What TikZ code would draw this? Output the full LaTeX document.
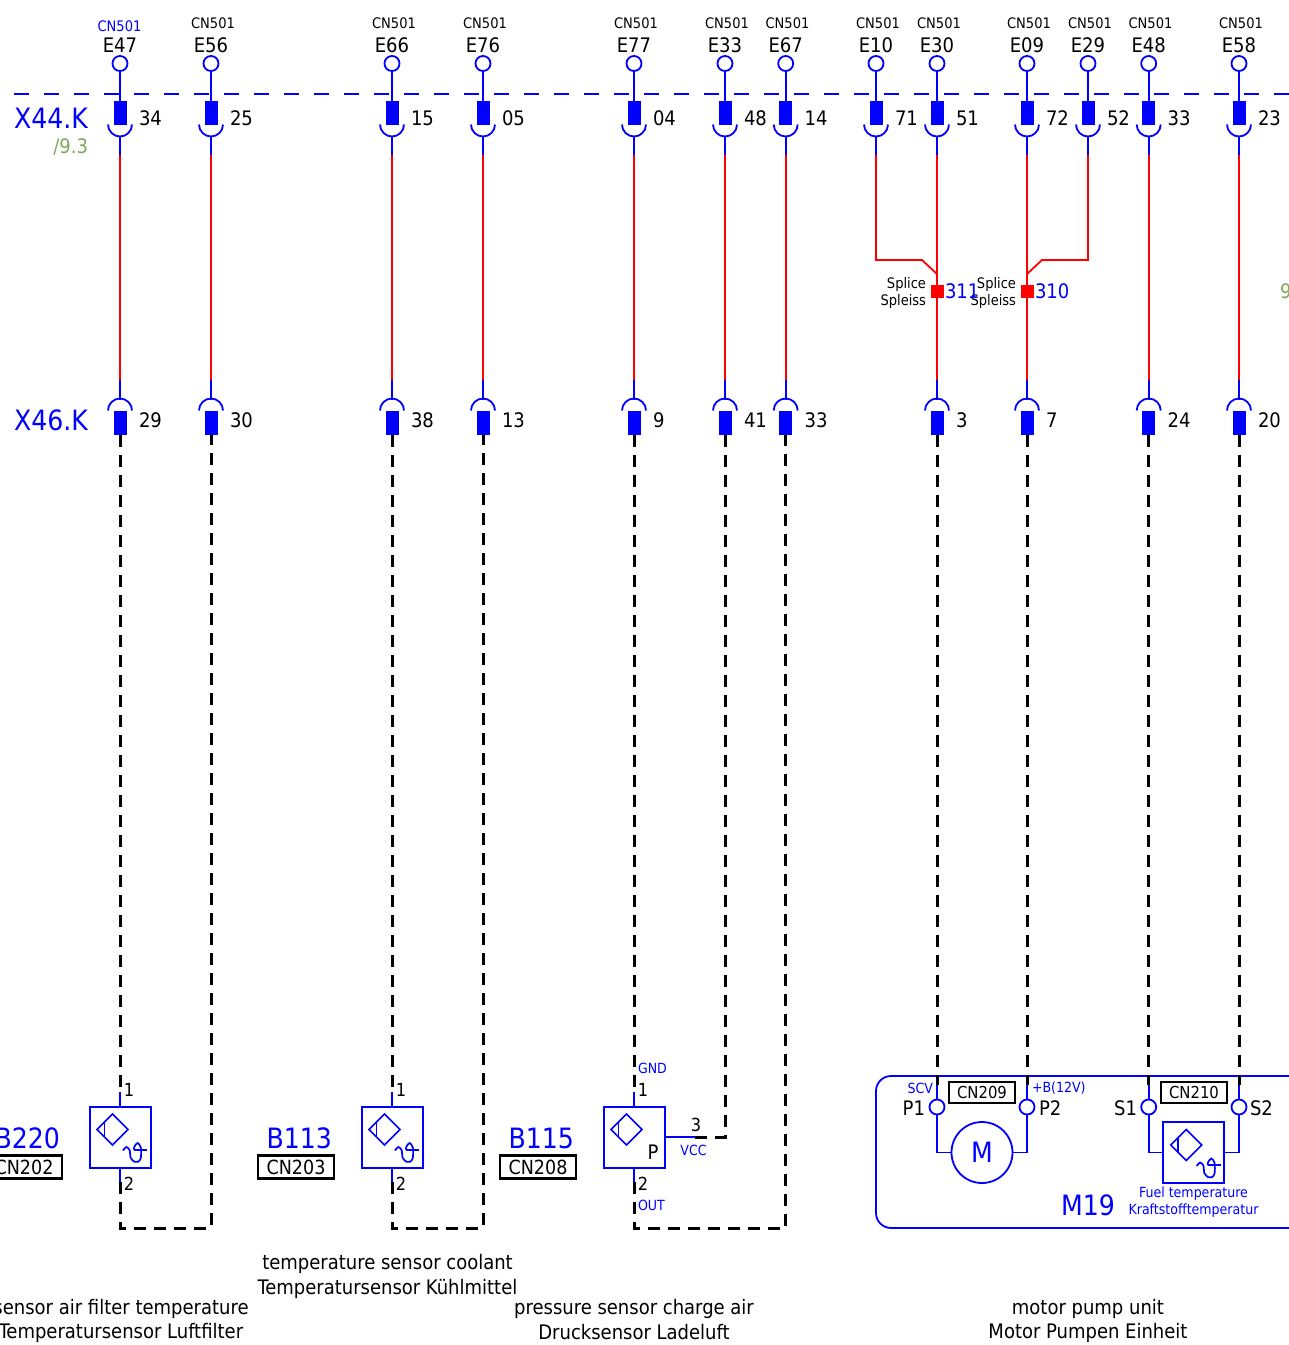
\documentclass[tikz,border=0pt]{standalone}
\usepackage{fontspec}
\setmainfont{DejaVu Sans Condensed}
\usetikzlibrary{
  positioning,
  calc
}
\definecolor{wireblue}{RGB}{0,0,255}
\definecolor{wirered}{RGB}{255,0,0}
\definecolor{refgreen}{RGB}{127,168,90}

\begin{document}
\begin{tikzpicture}[
  x=1pt, y=1pt,
  every node/.style = {inner sep=0pt, outer sep=0pt, align=center},
  wb/.style = {draw=wireblue, line width=1.8pt},
  wr/.style = {draw=wirered, line width=1.8pt},
  wk/.style = {draw=black, line width=3pt, dash pattern=on 12pt off 8pt},
  txttiny/.style = {font=\fontsize{14.5}{17}\selectfont},
  txtpin/.style = {font=\fontsize{20}{24}\selectfont},
  txtnum/.style = {font=\fontsize{18}{20}\selectfont},
  txtbig/.style = {font=\fontsize{28}{32}\selectfont, text=wireblue},
  txtcap/.style = {font=\fontsize{20}{24.5}\selectfont},
  txtblue/.style = {font=\fontsize{14}{17}\selectfont, text=wireblue},
  ringpin/.style = {circle, draw=wireblue, fill=white, line width=1.8pt, minimum size=15pt},
  plugpin/.style = {rectangle, fill=wireblue, minimum width=13pt, minimum height=24pt},
  tagbox/.style = {rectangle, draw=black, line width=2.2pt, font=\fontsize{19.5}{21}\selectfont,
    minimum height=23pt},
  sensorbox/.style = {rectangle, draw=wireblue, line width=2pt, minimum size=61pt},
  sensormark/.pic = {
    \draw[wireblue, line width=1.7pt] (23,-7.5) -- (38.5,-23) -- (23,-38.5) -- (7.5,-23) -- cycle;
    \draw[wireblue, line width=1.7pt] (15,-15.5) -- (15,-30.5);
  },
  tempmark/.pic = {
    \draw[wireblue, line width=1.7pt] plot[smooth, tension=.55] coordinates {
      (33.5,-44) (37,-40.5) (40.3,-44) (41,-51) (45,-55.3) (48.5,-55.3) (51.3,-51.5)
      (51.3,-41) (48,-36.5) (44.7,-40.5) (44.7,-43.3)};
    \draw[wireblue, line width=1.7pt] (44.7,-43.3) -- (57.3,-43.3);
  }]
  \useasboundingbox (0,-1345) rectangle (1289,0);

  \coordinate (busL) at (14,-94);
  \coordinate (busR) at (1289,-94);
  \draw[wb, dash pattern=on 15pt off 15pt] (busL) -- (busR);

  \foreach \x/\w/\pu/\cc/\cx/\cy in {
    120/E47/34/wireblue/119.5/-26, 211/E56/25/black/213/-23, 392/E66/15/black/394/-23,
    483/E76/05/black/485/-23, 634/E77/04/black/636/-23, 725/E33/48/black/727/-23,
    785.7/E67/14/black/787.5/-23, 876/E10/71/black/878/-23, 937/E30/51/black/939/-23,
    1027/E09/72/black/1029/-23, 1088/E29/52/black/1090/-23,
    1148.7/E48/33/black/1150.5/-23, 1239/E58/23/black/1241/-23} {
    \node[txttiny, text=\cc] (cn\w) at (\cx,\cy) {CN501};
    \node[txtpin] (name\w) at (\x,-45) {\w};
    \node[ringpin] (ring\w) at (\x,-63.5) {};
    \node[plugpin] (up\w) at (\x,-112.5) {};
    \node[txtpin, anchor=west] (num\w) at (\x+19,-118) {\pu};
    \coordinate (sw\w) at (\x,-155);
    \coordinate (cup\w) at (\x,-136);
    \draw[wb] (ring\w) -- (up\w);
    \draw[wb] ($(up\w.south)+(-12,0)$) arc (180:360:12);
    \draw[wb] (cup\w) -- (sw\w);
  }

  \foreach \x/\w/\pd in {
    120/E47/29, 211/E56/30, 392/E66/38, 483/E76/13, 634/E77/9, 725/E33/41, 785.7/E67/33,
    937/E30/3, 1027/E09/7, 1148.7/E48/24, 1239/E58/20} {
    \coordinate (se\w) at (\x,-380);
    \coordinate (cap\w) at (\x,-400);
    \node[plugpin] (lo\w) at (\x,-422.5) {};
    \node[txtpin, anchor=west] (low\w) at (\x+19,-420) {\pd};
    \draw[wr] (sw\w) -- (se\w);
    \draw[wb] (se\w) -- (cap\w);
    \draw[wb] ($(lo\w.north)+(-12,0)$) arc (180:0:12);
    \draw[wb] (lo\w.south) -- ++(0,-2);
  }

  \node[txtbig, anchor=east] (xtop) at (88,-118) {X44.K};
  \node[txtpin, anchor=east, text=refgreen] (xref) at (88,-147) {/9.3};
  \node[txtbig, anchor=east] (xlow) at (88,-420) {X46.K};
  \node[txtpin, anchor=west, text=refgreen] (xnine) at (1280,-291) {9};

  \node[rectangle, fill=wirered, minimum size=13pt] (sp311) at (937,-291) {};
  \node[rectangle, fill=wirered, minimum size=13pt] (sp310) at (1027,-291) {};
  \coordinate (kneeA) at (922,-260);
  \coordinate (joinA) at (937,-274);
  \coordinate (kneeB) at (1042,-260);
  \coordinate (joinB) at (1027,-274);
  \draw[wr] (swE10) |- (kneeA) -- (joinA);
  \draw[wr] (swE29) |- (kneeB) -- (joinB);
  \node[txttiny, anchor=east, align=right] (lb311) at (926,-293) {Splice\\Spleiss};
  \node[txttiny, anchor=east, align=right] (lb310) at (1016,-293) {Splice\\Spleiss};
  \node[txtpin, anchor=west, text=wireblue] (tx311) at (945,-291.5) {311};
  \node[txtpin, anchor=west, text=wireblue] (tx310) at (1035,-291.5) {310};

  \foreach \x/\s/\c/\cx/\a/\b in {
    120/B220/CN202/24/E47/E56, 392/B113/CN203/296/E66/E76, 634/B115/CN208/538/E77/E67} {
    \node[sensorbox] (box\s) at (\x,-1137) {};
    \pic at (box\s.north west) {sensormark};
    \node[txtbig, anchor=east] (id\s) at (\x-60,-1138) {\s};
    \node[tagbox, minimum width=76pt] (tag\s) at (\cx,-1167) {\c};
    \node[txtnum] (one\s) at (\x+9,-1090) {1};
    \node[txtnum] (two\s) at (\x+9,-1184) {2};
    \coordinate (in\s) at (\x,-1092);
    \coordinate (out\s) at (\x,-1182);
    \draw[wb] (in\s) -- (box\s.north);
    \draw[wb] (box\s.south) -- (out\s);
    \draw[wk] (lo\a.south) -- (in\s);
    \draw[wk] (out\s) |- ($(lo\b.south |- 0,-1228)$) -- (lo\b.south);
  }
  \pic at (boxB220.north west) {tempmark};
  \pic at (boxB113.north west) {tempmark};

  \node[txtpin] (pmark) at (653,-1152) {P};
  \coordinate (vccA) at (695,-1137);
  \draw[wb] (boxB115.east) -- (vccA);
  \draw[wk] (vccA) -| (loE33.south);
  \node[txtnum] (three) at (696,-1125) {3};
  \node[txtblue] (vcc) at (693.5,-1150) {VCC};
  \node[txtblue, anchor=west] (gnd) at (638,-1068) {GND};
  \node[txtblue, anchor=west] (outp) at (638,-1205) {OUT};

  \node[draw=wireblue, line width=1.8pt, rounded corners=15pt, minimum width=444pt,
    minimum height=152pt, anchor=north west] (unitM19) at (876,-1076) {};
  \node[ringpin] (ringP1) at (937,-1107) {};
  \node[ringpin] (ringP2) at (1027,-1107) {};
  \node[ringpin] (ringS1) at (1148.7,-1107) {};
  \node[ringpin] (ringS2) at (1239,-1107) {};
  \foreach \a/\r in {E30/P1, E09/P2, E48/S1, E58/S2} {
    \coordinate (in\r) at (ring\r |- 0,-1085);
    \draw[wk] (lo\a.south) -- (in\r);
    \draw[wb] (in\r) -- (ring\r.north);
  }
  \node[circle, draw=wireblue, line width=1.8pt, minimum size=61pt, text=wireblue,
    font=\fontsize{28}{30}\selectfont] (motor) at (982,-1152.5) {M};
  \node[sensorbox] (boxFuel) at (1193.75,-1152.5) {};
  \pic at (boxFuel.north west) {sensormark};
  \pic at (boxFuel.north west) {tempmark};
  \draw[wb] (ringP1.south) |- (motor.west);
  \draw[wb] (ringP2.south) |- (motor.east);
  \draw[wb] (ringS1.south) |- (boxFuel.west);
  \draw[wb] (ringS2.south) |- (boxFuel.east);
  \node[tagbox, font=\fontsize{16.5}{18}\selectfont, minimum width=66pt, minimum height=21pt] (tag209) at (982,-1092.5) {CN209};
  \node[tagbox, font=\fontsize{16.5}{18}\selectfont, minimum width=66pt, minimum height=21pt] (tag210) at (1194,-1092.5) {CN210};
  \node[txtpin, anchor=east] (lP1) at (925,-1108) {P1};
  \node[txtpin, anchor=west] (lP2) at (1039,-1108) {P2};
  \node[txtpin, anchor=east] (lS1) at (1137,-1108) {S1};
  \node[txtpin, anchor=west] (lS2) at (1250,-1108) {S2};
  \node[txtblue, anchor=east] (scv) at (933,-1088) {SCV};
  \node[txtblue, anchor=west] (bplus) at (1032,-1088) {+B(12V)};
  \node[txtbig] (idM19) at (1088,-1205) {M19};
  \node[txtblue] (fuel) at (1193.5,-1202) {Fuel temperature\\Kraftstofftemperatur};

  \node[txtcap] (capB113) at (387.5,-1276.5) {temperature sensor coolant\\Temperatursensor Kühlmittel};
  \node[txtcap] (capB220) at (121,-1321) {sensor air filter temperature\\Temperatursensor Luftfilter};
  \node[txtcap] (capB115) at (634,-1319.5) {pressure sensor charge air\\Drucksensor Ladeluft};
  \node[txtcap] (capM19) at (1088,-1321) {motor pump unit\\Motor Pumpen Einheit};
\end{tikzpicture}
\end{document}
